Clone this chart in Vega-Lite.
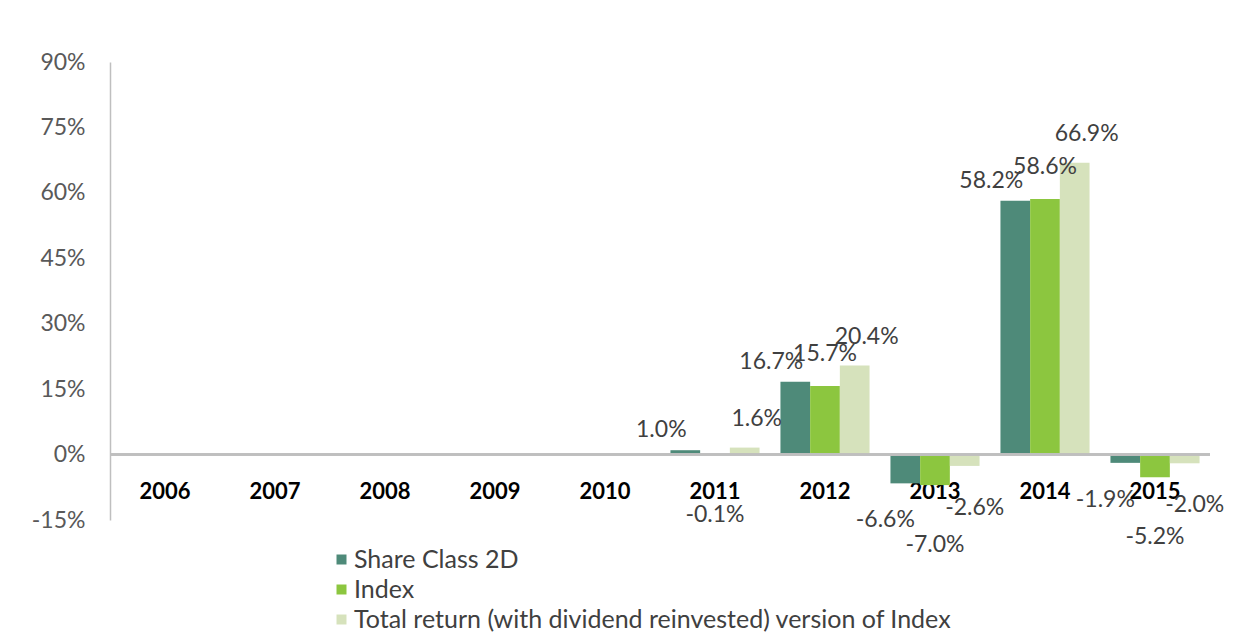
{
  "$schema": "https://vega.github.io/schema/vega-lite/v6.json",
  "width": 1100,
  "height": 458,
  "autosize": {"type": "none"},
  "padding": {"left": 110, "top": 62, "right": 43, "bottom": 115},
  "background": "white",
  "config": {
    "view": {"stroke": null},
    "font": "Lato",
    "text": {"fontSize": 23, "color": "#404040", "font": "Lato", "baseline": "middle"}
  },
  "data": {
    "values": [
      {"year": "2011", "series": "Share Class 2D", "value": 1.0},
      {"year": "2011", "series": "Index", "value": -0.1},
      {"year": "2011", "series": "Total return (with dividend reinvested) version of Index", "value": 1.6},
      {"year": "2012", "series": "Share Class 2D", "value": 16.7},
      {"year": "2012", "series": "Index", "value": 15.7},
      {"year": "2012", "series": "Total return (with dividend reinvested) version of Index", "value": 20.4},
      {"year": "2013", "series": "Share Class 2D", "value": -6.6},
      {"year": "2013", "series": "Index", "value": -7.0},
      {"year": "2013", "series": "Total return (with dividend reinvested) version of Index", "value": -2.6},
      {"year": "2014", "series": "Share Class 2D", "value": 58.2},
      {"year": "2014", "series": "Index", "value": 58.6},
      {"year": "2014", "series": "Total return (with dividend reinvested) version of Index", "value": 66.9},
      {"year": "2015", "series": "Share Class 2D", "value": -1.9},
      {"year": "2015", "series": "Index", "value": -5.2},
      {"year": "2015", "series": "Total return (with dividend reinvested) version of Index", "value": -2.0}
    ]
  },
  "transform": [
    {"calculate": "(datum.value < 0 ? '-' : '') + format(abs(datum.value), '.1f') + '%'", "as": "label"}
  ],
  "encoding": {
    "x": {
      "field": "year",
      "type": "ordinal",
      "scale": {
        "domain": ["2006", "2007", "2008", "2009", "2010", "2011", "2012", "2013", "2014", "2015"],
        "paddingInner": 0.19,
        "paddingOuter": 0.095
      },
      "axis": {
        "title": null,
        "domain": false,
        "ticks": false,
        "labelAngle": 0,
        "offset": -41,
        "labelPadding": 2,
        "labelFont": "Lato",
        "labelFontSize": 22,
        "labelFontWeight": "bold",
        "labelColor": "#000000"
      }
    },
    "xOffset": {
      "field": "series",
      "type": "nominal",
      "sort": ["Share Class 2D", "Index", "Total return (with dividend reinvested) version of Index"]
    },
    "y": {
      "field": "value",
      "type": "quantitative",
      "scale": {"domain": [-15, 90], "nice": false, "zero": false},
      "axis": {
        "title": null,
        "values": [-15, 0, 15, 30, 45, 60, 75, 90],
        "labelExpr": "datum.value + '%'",
        "grid": false,
        "ticks": false,
        "domain": true,
        "domainColor": "#BFBFBF",
        "domainWidth": 1.5,
        "labelPadding": 25,
        "labelFont": "Lato",
        "labelFontSize": 23,
        "labelColor": "#595959"
      }
    },
    "text": {"field": "label", "type": "nominal"}
  },
  "layer": [
    {
      "mark": {"type": "bar"},
      "encoding": {
        "text": null,
        "color": {
          "field": "series",
          "type": "nominal",
          "scale": {
            "domain": ["Share Class 2D", "Index", "Total return (with dividend reinvested) version of Index"],
            "range": ["#4E8A79", "#8CC63F", "#D6E2BC"]
          },
          "legend": {
            "title": null,
            "orient": "none",
            "legendX": 219,
            "legendY": 485,
            "direction": "vertical",
            "symbolType": "square",
            "symbolSize": 100,
            "symbolStrokeWidth": 0,
            "labelFont": "Lato",
            "labelFontSize": 25,
            "labelColor": "#404040",
            "labelOffset": 0,
            "rowPadding": 4,
            "labelLimit": 900
          }
        }
      }
    },
    {
      "mark": {"type": "rule", "color": "#BFBFBF", "strokeWidth": 1.5},
      "encoding": {
        "y": {"datum": 0},
        "x": null,
        "xOffset": null,
        "text": null
      }
    },
    {
      "transform": [{"filter": "datum.value >= 0 && datum.series == 'Share Class 2D'"}],
      "mark": {"type": "text", "dy": -20, "dx": -24}
    },
    {
      "transform": [{"filter": "datum.value >= 0 && datum.series == 'Index'"}],
      "mark": {"type": "text", "dy": -32, "dx": 0}
    },
    {
      "transform": [{"filter": "datum.value >= 0 && datum.series == 'Total return (with dividend reinvested) version of Index'"}],
      "mark": {"type": "text", "dy": -29, "dx": 12}
    },
    {
      "transform": [{"filter": "datum.value < 0 && datum.series == 'Share Class 2D'"}],
      "mark": {"type": "text", "dy": 37, "dx": -20}
    },
    {
      "transform": [{"filter": "datum.value < 0 && datum.series == 'Index'"}],
      "mark": {"type": "text", "dy": 60, "dx": 0}
    },
    {
      "transform": [{"filter": "datum.value < 0 && datum.series == 'Total return (with dividend reinvested) version of Index'"}],
      "mark": {"type": "text", "dy": 42, "dx": 10}
    }
  ]
}
